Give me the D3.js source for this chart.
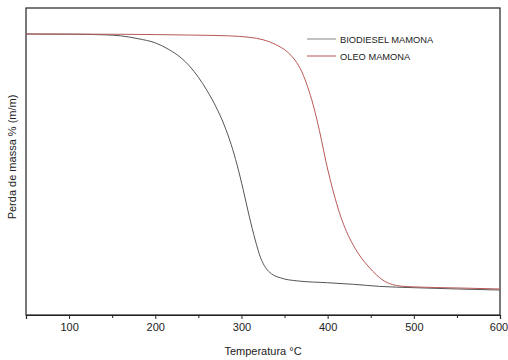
<!DOCTYPE html>
<html>
<head>
<meta charset="utf-8">
<script src="https://cdn.jsdelivr.net/npm/d3@7"></script>
<style>
    body { margin: 0; background: #fff; }
    text { font-family: "Liberation Sans", Arial, sans-serif; fill: #222; }
</style>
</head>
<body>
<div id="chartDiv"></div>
<script>
"use strict";

// data (temperature in C, mass in %)
var bioTemp = [50, 100, 140, 160, 180, 200, 215, 230, 240, 250, 260, 270, 280, 288, 295, 302, 309, 316, 322, 328, 335, 345, 365, 400, 430, 460, 500, 550, 600];
var bioMass = [100, 99.95, 99.7, 99.3, 98.2, 96.6, 94.2, 90.8, 87.6, 83.4, 78.3, 72.3, 65.0, 57.6, 49.6, 40.2, 30.0, 20.8, 14.2, 10.2, 7.8, 6.3, 5.1, 4.4, 3.8, 3.0, 2.5, 2.0, 1.6];

var oleoTemp = [50, 160, 240, 285, 310, 325, 340, 353, 362, 370, 377, 383, 388, 393, 398, 403, 409, 415, 422, 430, 439, 448, 457, 466, 475, 485, 500, 550, 600];
var oleoMass = [100, 99.9, 99.6, 99.3, 98.7, 97.8, 95.9, 93.2, 90.0, 85.5, 79.5, 73.0, 66.5, 59.0, 51.0, 44.0, 36.5, 30.0, 24.0, 18.7, 14.0, 10.4, 7.3, 5.0, 3.7, 3.1, 2.8, 2.4, 2.0];

var seriesNames = ["BIODIESEL MAMONA", "OLEO MAMONA"];
var xTicks = [100, 200, 300, 400, 500, 600];
var xMinorTicks = [50, 150, 250, 350, 450, 550];

// svg parameters
var svgWidth = 508;
var svgHeight = 360;
var margin = {left: 26, top: 8, right: 8, bottom: 45};
var plotW = svgWidth - margin.left - margin.right;
var plotH = svgHeight - margin.top - margin.bottom;

var colors = ["#555555", "#b85858"];
var legendColors = ["#999999", "#c47070"];

var svg = d3.select("#chartDiv").append("svg").attr("width", svgWidth).attr("height", svgHeight);
var g = svg.append("g").attr("transform", "translate(" + margin.left + "," + margin.top + ")");

var x = d3.scaleLinear().domain([50, 600]).range([0, plotW]);
var y = d3.scaleLinear().domain([-8, 110]).range([plotH, 0]);

// frame
g.append("rect").attr("x", 0).attr("y", 0).attr("width", plotW).attr("height", plotH)
    .attr("fill", "none").attr("stroke", "#222").attr("stroke-width", 1.2);

// bottom axis, major and minor ticks
var xAxis = g.append("g").attr("transform", "translate(0," + plotH + ")")
    .call(d3.axisBottom(x).tickValues(xTicks).tickSize(4).tickPadding(4));
xAxis.select(".domain").attr("stroke", "#222").attr("stroke-width", 1.2);
xAxis.selectAll(".tick line").attr("stroke", "#222");
xAxis.selectAll(".tick text").style("font-size", "11px").attr("font-family", null);
// keep the last label inside the window
xAxis.selectAll(".tick text").filter(function (d) { return d === 600; }).attr("dx", "-1.5");

var minor = g.append("g").attr("transform", "translate(0," + plotH + ")")
    .call(d3.axisBottom(x).tickValues(xMinorTicks).tickSize(3).tickFormat(""));
minor.select(".domain").remove();
minor.selectAll(".tick line").attr("stroke", "#222");

// axis titles
svg.append("text").attr("x", margin.left + plotW / 2).attr("y", 355)
    .attr("text-anchor", "middle").style("font-size", "11px").text("Temperatura °C");
svg.append("text").attr("transform", "translate(16,157) rotate(-90)")
    .attr("text-anchor", "middle").style("font-size", "11px").text("Perda de massa % (m/m)");

// curves
var line = d3.line().x(function (d) { return x(d[0]); }).y(function (d) { return y(d[1]); }).curve(d3.curveMonotoneX);
var series = [d3.zip(bioTemp, bioMass), d3.zip(oleoTemp, oleoMass)];

g.selectAll("path.curve").data(series).enter().append("path")
    .attr("class", "curve")
    .attr("d", line)
    .attr("fill", "none")
    .attr("stroke", function (d, i) { return colors[i]; })
    .attr("stroke-width", 1);

// legend
var legend = svg.append("g").attr("transform", "translate(307,39)");
seriesNames.forEach(function (name, i) {
    legend.append("line").attr("x1", 0).attr("x2", 29).attr("y1", i * 17).attr("y2", i * 17)
        .attr("stroke", legendColors[i]).attr("stroke-width", 1.2);
    legend.append("text").attr("x", 33).attr("y", i * 17 + 3.5).style("font-size", "9.3px").text(name);
});
</script>
</body>
</html>
